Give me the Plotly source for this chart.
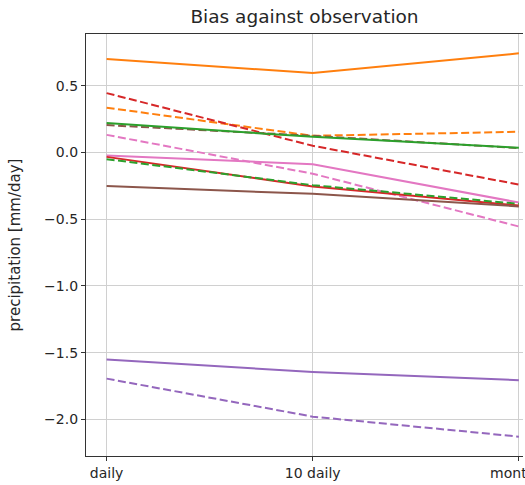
import plotly.graph_objs as go

# x categories (monthly is clipped at the right edge in the original)
periods = ["daily", "10 daily", "monthly"]

# bias values per series (solid / dashed per colour)
orange_solid = [0.70, 0.595, 0.743]
orange_dash = [0.336, 0.125, 0.155]
red_dash = [0.445, 0.05, -0.24]
green_solid = [0.22, 0.117, 0.035]
brown_dash = [0.205, 0.125, 0.033]
pink_dash = [0.132, -0.159, -0.555]
pink_solid = [-0.022, -0.088, -0.375]
red_solid = [-0.033, -0.255, -0.398]
green_dash = [-0.05, -0.245, -0.385]
brown_solid = [-0.252, -0.31, -0.404]
purple_solid = [-1.552, -1.645, -1.707]
purple_dash = [-1.695, -1.98, -2.13]

yticks = [0.5, 0.0, -0.5, -1.0, -1.5, -2.0]
yticklabels = ["0.5", "0.0", "\u22120.5", "\u22121.0", "\u22121.5", "\u22122.0"]

series = [
    (orange_solid, '#ff7f0e', 'solid'),
    (orange_dash, '#ff7f0e', 'dash'),
    (red_dash, '#d62728', 'dash'),
    (brown_dash, '#8c564b', 'dash'),
    (green_solid, '#2ca02c', 'solid'),
    (pink_dash, '#e377c2', 'dash'),
    (pink_solid, '#e377c2', 'solid'),
    (red_solid, '#d62728', 'solid'),
    (green_dash, '#2ca02c', 'dash'),
    (brown_solid, '#8c564b', 'solid'),
    (purple_solid, '#9467bd', 'solid'),
    (purple_dash, '#9467bd', 'dash'),
]

fig = go.Figure()

for vals, col, style in series:
    dash = '8px,3.5px' if style == 'dash' else 'solid'
    fig.add_trace(go.Scatter(x=periods, y=vals, mode='lines',
                             line=dict(color=col, width=2, dash=dash),
                             showlegend=False, hoverinfo='skip'))

W, H = 525, 485
fig.update_layout(
    width=W,
    height=H,
    plot_bgcolor='white',
    paper_bgcolor='white',
    font=dict(family='DejaVu Sans', size=14, color='#262626'),
    title=dict(text='Bias against observation', x=0.5, xanchor='center',
               xref='paper', yref='container', y=1 - 17 / H, yanchor='middle',
               font=dict(size=18.5, color='#262626')),
    margin=dict(autoexpand=False, l=86, r=2, t=34, b=29),
    showlegend=False,
)

fig.update_xaxes(type='category', range=[-0.1, 2.02], automargin=False,
                 showgrid=True, gridcolor='#d0d0d0', gridwidth=1,
                 showline=True, linecolor='#333333', linewidth=1.2, mirror=True,
                 ticks='outside', ticklen=4, tickcolor='#333333',
                 zeroline=False)

fig.update_yaxes(range=[-2.275, 0.888], automargin=False,
                 tickvals=yticks, ticktext=yticklabels,
                 showgrid=True, gridcolor='#d0d0d0', gridwidth=1,
                 showline=True, linecolor='#333333', linewidth=1.2, mirror=False,
                 ticks='outside', ticklen=4, tickcolor='#333333',
                 zeroline=False,
                 title=dict(text='precipitation [mm/day]', standoff=19,
                            font=dict(size=15)))

# drop the default page margin so the figure fills the window, no modebar
fig.write_html("out.html",
               config={'displayModeBar': False},
               post_script="document.body.style.margin='0';")
